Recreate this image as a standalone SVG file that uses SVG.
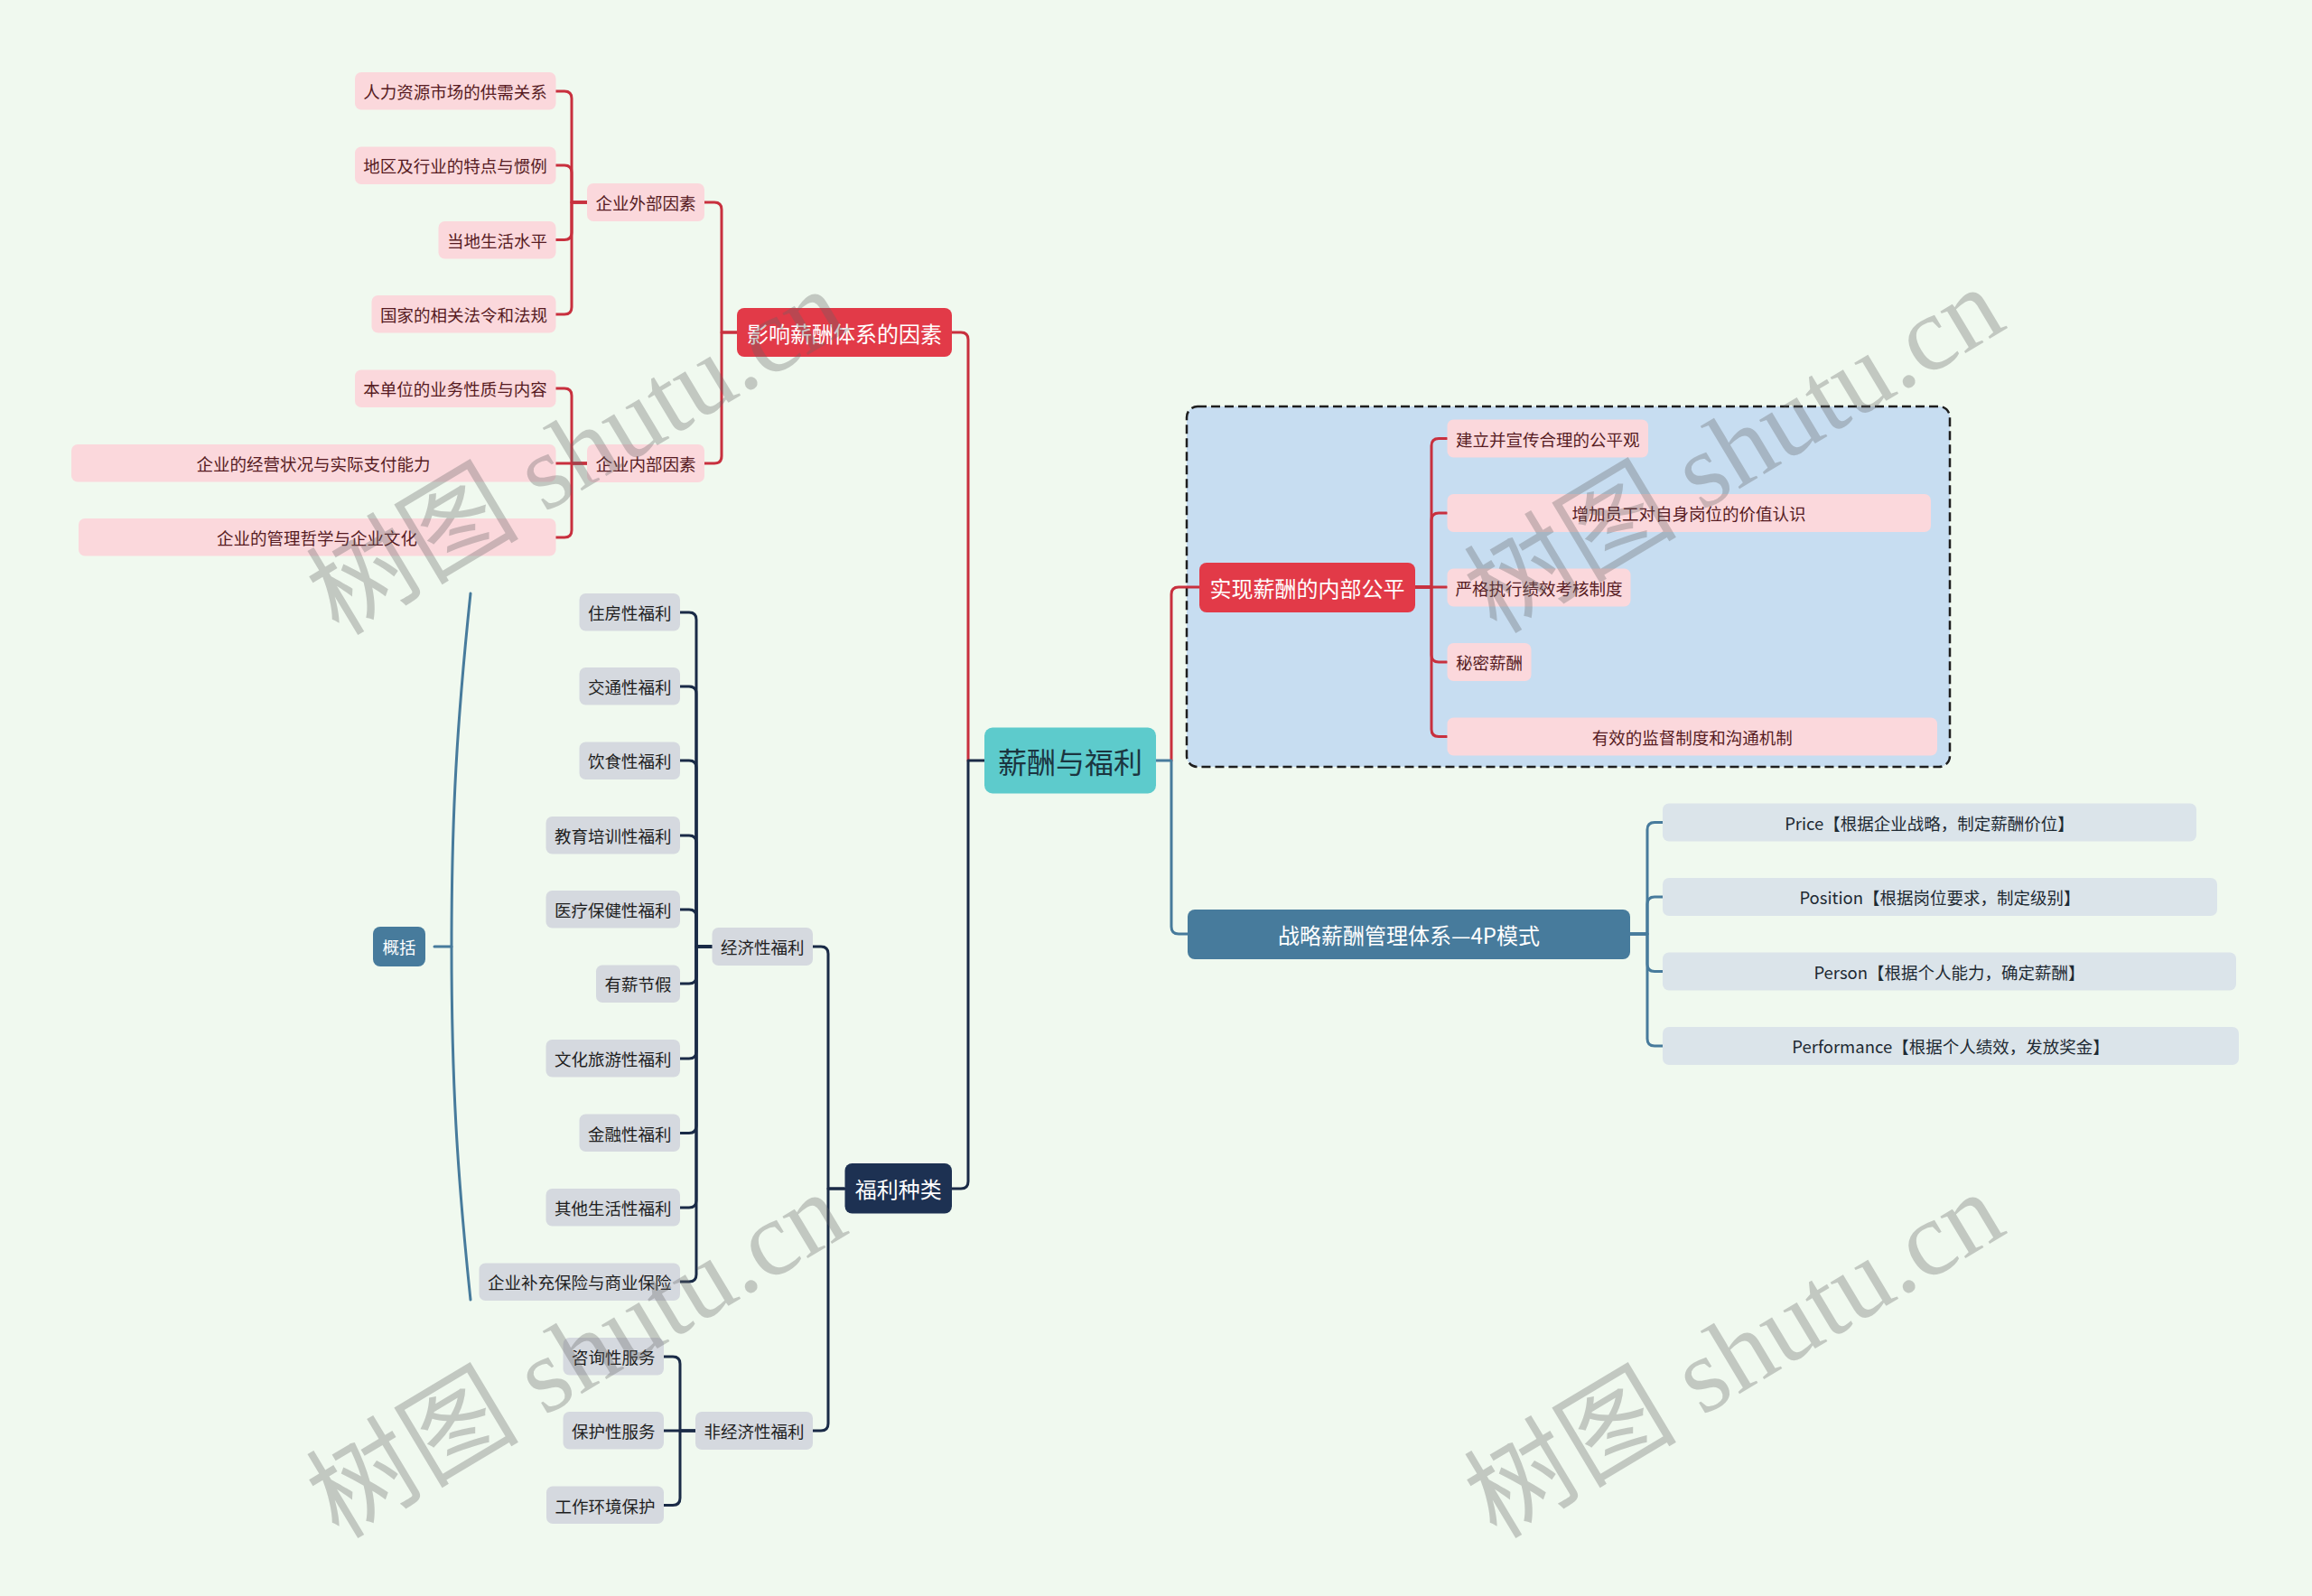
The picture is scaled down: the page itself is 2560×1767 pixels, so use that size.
<svg xmlns="http://www.w3.org/2000/svg" width="2560" height="1767" viewBox="0 0 2560 1767">
<style>
text{font-family:"Noto Sans CJK SC","Microsoft YaHei",sans-serif;dominant-baseline:central;text-anchor:middle}
.pk rect{fill:#fbd8dc}
.pk text{fill:#561b22;font-size:18.5px}
.gr rect{fill:#d5d9df}
.gr text{fill:#1e1e1e;font-size:18.5px}
.bl rect{fill:#dbe4ea}
.bl text{fill:#1e2a33;font-size:18.5px}
.rd rect{fill:#e23a48}
.rd text{fill:#fff;font-size:24px}
.nv rect{fill:#1d3152}
.nv text{fill:#fff;font-size:24px}
.st rect{fill:#477b9c}
.st text{fill:#fff;font-size:24px}
.ct rect{fill:#5dcbcc}
.ct text{fill:#1b3540;font-size:32px}
.c{fill:none;stroke-width:3;stroke-linecap:round;stroke-linejoin:round}
.cr{stroke:#c8303e}
.cn{stroke:#1a2b47}
.cs{stroke:#477b9c}
.wm text{font-family:"Liberation Serif","Noto Sans CJK SC",serif;font-size:118px;fill:#646464;opacity:.32;text-anchor:start;dominant-baseline:alphabetic}
</style>
<rect x="0" y="0" width="2560" height="1767" fill="#f0f9ef"/>

<g id="summary-frame">
<rect x="1314" y="450" width="845" height="399" rx="12" fill="#c7ddf1" stroke="#1e1e1e" stroke-width="2.5" stroke-dasharray="10 5"/>
</g>

<g id="connectors">
<path class="c cr" d="M615,101 H625 Q633,101 633,109 V224 H650"/>
<path class="c cr" d="M615,183 H625 Q633,183 633,191 V224 H650"/>
<path class="c cr" d="M615,265.5 H625 Q633,265.5 633,257.5 V224 H650"/>
<path class="c cr" d="M615,348 H625 Q633,348 633,340 V224 H650"/>
<path class="c cr" d="M615,430 H625 Q633,430 633,438 V513 H650"/>
<path class="c cr" d="M615,513 H650"/>
<path class="c cr" d="M615,595 H625 Q633,595 633,587 V513 H650"/>
<path class="c cr" d="M780,224 H791 Q799,224 799,232 V368 H816"/>
<path class="c cr" d="M780,513 H791 Q799,513 799,505 V368 H816"/>
<path class="c cr" d="M1054,368 H1064 Q1072,368 1072,376 V842"/>
<path class="c cn" d="M1054,1316 H1064 Q1072,1316 1072,1308 V842 H1090"/>
<path class="c cr" d="M1297,842 V658 Q1297,650 1305,650 H1328"/>
<path class="c cs" d="M1280,842 H1297 V1026 Q1297,1034 1305,1034 H1315"/>
<path class="c cr" d="M1567,650 H1585 V493.5 Q1585,485.5 1593,485.5 H1602"/>
<path class="c cr" d="M1567,650 H1585 V576 Q1585,568 1593,568 H1602"/>
<path class="c cr" d="M1567,650 H1602"/>
<path class="c cr" d="M1567,650 H1585 V725 Q1585,733 1593,733 H1602"/>
<path class="c cr" d="M1567,650 H1585 V807.5 Q1585,815.5 1593,815.5 H1602"/>
<path class="c cs" d="M1805,1034 H1824 V918.5 Q1824,910.5 1832,910.5 H1841"/>
<path class="c cs" d="M1805,1034 H1824 V1001 Q1824,993 1832,993 H1841"/>
<path class="c cs" d="M1805,1034 H1824 V1067.5 Q1824,1075.5 1832,1075.5 H1841"/>
<path class="c cs" d="M1805,1034 H1824 V1150 Q1824,1158 1832,1158 H1841"/>
<path class="c cn" d="M900,1048 H909 Q917,1048 917,1056 V1316 H935"/>
<path class="c cn" d="M900,1584 H909 Q917,1584 917,1576 V1316 H935"/>
<path class="c cn" d="M753,678 H763 Q771,678 771,686 V1048 H788"/>
<path class="c cn" d="M753,760 H763 Q771,760 771,768 V1048 H788"/>
<path class="c cn" d="M753,842 H763 Q771,842 771,850 V1048 H788"/>
<path class="c cn" d="M753,925 H763 Q771,925 771,933 V1048 H788"/>
<path class="c cn" d="M753,1007 H763 Q771,1007 771,1015 V1048 H788"/>
<path class="c cn" d="M753,1089 H763 Q771,1089 771,1081 V1048 H788"/>
<path class="c cn" d="M753,1172 H763 Q771,1172 771,1164 V1048 H788"/>
<path class="c cn" d="M753,1254.5 H763 Q771,1254.5 771,1246.5 V1048 H788"/>
<path class="c cn" d="M753,1337 H763 Q771,1337 771,1329 V1048 H788"/>
<path class="c cn" d="M753,1419 H763 Q771,1419 771,1411 V1048 H788"/>
<path class="c cn" d="M735,1502 H745 Q753,1502 753,1510 V1584 H770"/>
<path class="c cn" d="M735,1584 H770"/>
<path class="c cn" d="M735,1666.5 H745 Q753,1666.5 753,1658.5 V1584 H770"/>
<path class="c cs" d="M521,657 C506,800 500,900 500,1048 C500,1196 506,1296 521,1439"/>
<path class="c cs" d="M481,1048 H500"/>
</g>

<g id="n-center" class="ct"><rect x="1090" y="805.5" width="190" height="73" rx="9"/><text x="1185" y="842">薪酬与福利</text></g>

<g id="n-yingxiang" class="rd"><rect x="816" y="341" width="238" height="54" rx="8"/><text x="935" y="368">影响薪酬体系的因素</text></g>
<g id="n-waibu" class="pk"><rect x="650" y="203" width="130" height="42" rx="7"/><text x="715" y="224">企业外部因素</text></g>
<g id="n-neibu" class="pk"><rect x="650" y="492" width="130" height="42" rx="7"/><text x="715" y="513">企业内部因素</text></g>
<g id="n-w1" class="pk"><rect x="393" y="80" width="222.5" height="41.5" rx="7"/><text x="504" y="101">人力资源市场的供需关系</text></g>
<g id="n-w2" class="pk"><rect x="393" y="162.5" width="222.5" height="41.5" rx="7"/><text x="504" y="183">地区及行业的特点与惯例</text></g>
<g id="n-w3" class="pk"><rect x="485.5" y="245" width="130" height="41.5" rx="7"/><text x="550.5" y="265.5">当地生活水平</text></g>
<g id="n-w4" class="pk"><rect x="411.5" y="327" width="204" height="41.5" rx="7"/><text x="513.5" y="348">国家的相关法令和法规</text></g>
<g id="n-i1" class="pk"><rect x="393" y="409.5" width="222.5" height="41.5" rx="7"/><text x="504" y="430">本单位的业务性质与内容</text></g>
<g id="n-i2" class="pk"><rect x="79" y="492" width="536.5" height="41.5" rx="7"/><text x="347" y="513">企业的经营状况与实际支付能力</text></g>
<g id="n-i3" class="pk"><rect x="87" y="574" width="528.5" height="41.5" rx="7"/><text x="351" y="595">企业的管理哲学与企业文化</text></g>

<g id="n-shixian" class="rd"><rect x="1328" y="623" width="239" height="55" rx="8"/><text x="1447.5" y="650.5">实现薪酬的内部公平</text></g>
<g id="n-s1" class="pk"><rect x="1602.5" y="464.5" width="222.5" height="42" rx="7"/><text x="1713.75" y="485.5">建立并宣传合理的公平观</text></g>
<g id="n-s2" class="pk"><rect x="1602.5" y="547" width="535.5" height="42" rx="7"/><text x="1870" y="568">增加员工对自身岗位的价值认识</text></g>
<g id="n-s3" class="pk"><rect x="1602.5" y="629.5" width="203" height="42" rx="7"/><text x="1704" y="650.5">严格执行绩效考核制度</text></g>
<g id="n-s4" class="pk"><rect x="1602.5" y="712" width="93" height="42" rx="7"/><text x="1649" y="733">秘密薪酬</text></g>
<g id="n-s5" class="pk"><rect x="1602.5" y="794.5" width="542.5" height="42" rx="7"/><text x="1873.75" y="815.5">有效的监督制度和沟通机制</text></g>

<g id="n-zhanlue" class="st"><rect x="1315" y="1007" width="490" height="55" rx="8"/><text x="1560" y="1034.5">战略薪酬管理体系—4P模式</text></g>
<g id="n-p1" class="bl"><rect x="1841" y="889.5" width="591" height="42" rx="7"/><text x="2136.5" y="910.5">Price【根据企业战略，制定薪酬价位】</text></g>
<g id="n-p2" class="bl"><rect x="1841" y="972" width="614" height="42" rx="7"/><text x="2148" y="993">Position【根据岗位要求，制定级别】</text></g>
<g id="n-p3" class="bl"><rect x="1841" y="1054.5" width="635" height="42" rx="7"/><text x="2158.5" y="1075.5">Person【根据个人能力，确定薪酬】</text></g>
<g id="n-p4" class="bl"><rect x="1841" y="1137" width="638" height="42" rx="7"/><text x="2160" y="1158">Performance【根据个人绩效，发放奖金】</text></g>

<g id="n-fuli" class="nv"><rect x="935.5" y="1288" width="118.5" height="55.5" rx="8"/><text x="994.75" y="1315.7">福利种类</text></g>
<g id="n-jingji" class="gr"><rect x="788.5" y="1027" width="111.5" height="42" rx="7"/><text x="844.25" y="1048">经济性福利</text></g>
<g id="n-feijingji" class="gr"><rect x="770" y="1563" width="130" height="42" rx="7"/><text x="835" y="1584">非经济性福利</text></g>
<g id="n-e1" class="gr"><rect x="641.5" y="657" width="111.5" height="41.5" rx="7"/><text x="697.25" y="678">住房性福利</text></g>
<g id="n-e2" class="gr"><rect x="641.5" y="739" width="111.5" height="41.5" rx="7"/><text x="697.25" y="760">交通性福利</text></g>
<g id="n-e3" class="gr"><rect x="641.5" y="821.5" width="111.5" height="41.5" rx="7"/><text x="697.25" y="842">饮食性福利</text></g>
<g id="n-e4" class="gr"><rect x="604.5" y="904" width="148.5" height="41.5" rx="7"/><text x="678.75" y="925">教育培训性福利</text></g>
<g id="n-e5" class="gr"><rect x="604.5" y="986" width="148.5" height="41.5" rx="7"/><text x="678.75" y="1007">医疗保健性福利</text></g>
<g id="n-e6" class="gr"><rect x="660" y="1068.5" width="93" height="41.5" rx="7"/><text x="706.5" y="1089">有薪节假</text></g>
<g id="n-e7" class="gr"><rect x="604.5" y="1151" width="148.5" height="41.5" rx="7"/><text x="678.75" y="1172">文化旅游性福利</text></g>
<g id="n-e8" class="gr"><rect x="641.5" y="1233.5" width="111.5" height="41.5" rx="7"/><text x="697.25" y="1254.5">金融性福利</text></g>
<g id="n-e9" class="gr"><rect x="604.5" y="1316" width="148.5" height="41.5" rx="7"/><text x="678.75" y="1337">其他生活性福利</text></g>
<g id="n-e10" class="gr"><rect x="530.5" y="1398.5" width="222.5" height="41.5" rx="7"/><text x="641.75" y="1419">企业补充保险与商业保险</text></g>
<g id="n-f1" class="gr"><rect x="623.5" y="1481" width="111.5" height="41.5" rx="7"/><text x="679.25" y="1502">咨询性服务</text></g>
<g id="n-f2" class="gr"><rect x="623.5" y="1563" width="111.5" height="41.5" rx="7"/><text x="679.25" y="1584">保护性服务</text></g>
<g id="n-f3" class="gr"><rect x="605" y="1645.5" width="130" height="41.5" rx="7"/><text x="670" y="1666.5">工作环境保护</text></g>

<g id="n-gaikuo" class="st"><rect x="413" y="1026" width="58" height="44" rx="8"/><text x="442" y="1048" style="font-size:18.5px">概括</text></g>

<g id="watermark" class="wm">
<text transform="translate(375,705) rotate(-31)">树图 shutu.cn</text>
<text transform="translate(1657,703) rotate(-31)">树图 shutu.cn</text>
<text transform="translate(375,1705) rotate(-31)">树图 shutu.cn</text>
<text transform="translate(1657,1705) rotate(-31)">树图 shutu.cn</text>
</g>
</svg>
